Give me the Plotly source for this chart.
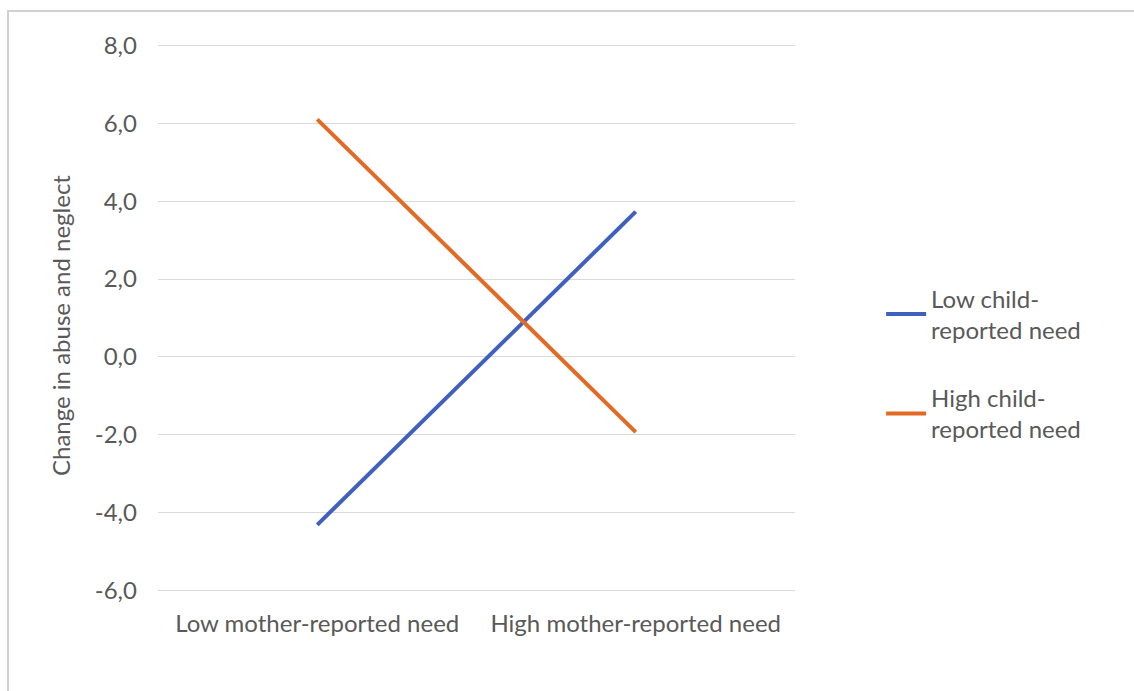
import plotly.graph_objects as go

categories = ["Low mother-reported need", "High mother-reported need"]
low_child = [-4.31, 3.73]
high_child = [6.10, -1.93]
series_names = ["Low child-<br>reported need", "High child-<br>reported need"]
y_ticks = [-6, -4, -2, 0, 2, 4, 6, 8]
y_tick_labels = ["-6,0", "-4,0", "-2,0", "0,0", "2,0", "4,0", "6,0", "8,0"]

FONT = "Lato, 'Open Sans', sans-serif"
GRAY = "#595959"
FS = 24

fig = go.Figure()
fig.add_trace(go.Scatter(x=categories, y=low_child, mode="lines", name=series_names[0],
                         legendgroup="a", line=dict(color="#3F60BE", width=4)))
fig.add_trace(go.Scatter(x=categories, y=high_child, mode="lines", name=series_names[1],
                         legendgroup="b", line=dict(color="#E36A25", width=4)))

fig.update_layout(
    width=1134, height=691,
    margin=dict(l=158, r=339, t=43, b=98),
    paper_bgcolor="white", plot_bgcolor="white",
    font=dict(family=FONT, color=GRAY, size=FS),
    showlegend=True,
    legend=dict(xref="container", yref="container", x=0.777, y=0.60, xanchor="left", yanchor="top",
                font=dict(size=FS, color=GRAY), tracegroupgap=34, itemwidth=40,
                bgcolor="rgba(0,0,0,0)"),
    xaxis=dict(type="category", range=[-0.5, 1.5], showgrid=False, zeroline=False,
               showline=False, ticks="", tickfont=dict(size=FS, color=GRAY), ticklabelstandoff=14),
    yaxis=dict(range=[-6.06, 8.06], tickvals=y_ticks, ticktext=y_tick_labels, showgrid=True,
               gridcolor="#D9D9D9", gridwidth=1, zeroline=False, showline=False, ticks="",
               tickfont=dict(size=FS, color=GRAY), ticklabelstandoff=20),
    shapes=[dict(type="rect", xref="paper", yref="paper", x0=-150/637, x1=1.0 + 400/637,
                 y0=-200/550, y1=1 + 32/550, line=dict(color="#D0D0D0", width=2), layer="below")],
    annotations=[dict(text="Change in abuse and neglect", xref="paper", yref="paper",
                      x=-98/637, y=0.5 - 8/550, textangle=-90, showarrow=False,
                      font=dict(size=FS, color=GRAY), xanchor="center", yanchor="middle")],
)

fig.write_html("out.html")
